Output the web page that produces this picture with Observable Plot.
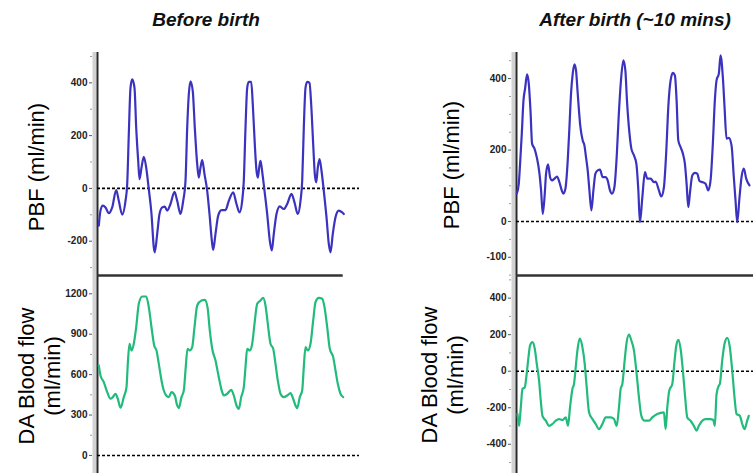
<!DOCTYPE html>
<html><head><meta charset="utf-8">
<script src="https://cdn.jsdelivr.net/npm/d3@7"></script>
<script src="https://cdn.jsdelivr.net/npm/@observablehq/plot@0.6"></script>
<style>
body{margin:0;background:#fff;}
#wrap{position:relative;width:753px;height:473px;overflow:hidden;font-family:"Liberation Sans",Arial,sans-serif;background:#fff;}
.panel{position:absolute;}
.panel svg{background:transparent !important;overflow:visible;}
.title{position:absolute;top:9px;line-height:22px;font-weight:bold;font-style:italic;font-size:19px;transform:translateX(-50%);white-space:nowrap;color:#111;}
.ylab{position:absolute;font-size:22px;line-height:26px;text-align:center;white-space:nowrap;transform:translate(-50%,-50%) rotate(-90deg);color:#000;}
</style></head>
<body><div id="wrap"></div>
<script>
// ---- Data (time in arbitrary units, flow in ml/min) ----
const titles = ["Before birth", "After birth (~10 mins)"];
const pbfLabel = "PBF (ml/min)";
const daLabel = ["DA Blood flow", "(ml/min)"];

// Before birth: pulmonary blood flow
const beforePBFTime = [1.3,3,5.3,8,11.3,14.7,18.7,21.3,24.7,28,29.7,31.3,33,34.7,37,38.7,40.7,42,44,46.3,48.7,51.3,54,56.3,57.3,59.7,62,64.7,67.3,69.7,73,77,79.7,83,85.7,88,89.7,91.3,93,95.3,97.3,99.7,101.3,103,104.7,107,109.7,112,114.7,115.7,118,120.7,124,128,131.3,135.7,139,142,144.7,146.3,148,149.7,151.3,153.7,155.3,157.3,159,160.3,161.7,163,165,167,169.7,172.3,174.3,176.3,179,182.3,186.3,189.7,194,197,200.3,203,204.7,206.3,208,209.7,212,213.7,215.7,217.3,218.7,220.3,222,224,226.3,229,231.3,233,235.3,238,241.3,244.7,246.3];
const beforePBF = [-141,-84,-65,-72,-94,-72,-6,-47,-99,-47,16,205,381,413,381,230,104,35,79,120,79,-3,-97,-223,-242,-172,-97,-72,-69,-84,-59,-13,-47,-97,-47,29,230,356,406,368,230,92,41,79,107,54,-9,-97,-210,-233,-172,-103,-82,-82,-47,-15,-59,-91,-47,29,230,381,404,404,318,167,67,41,79,104,54,-9,-97,-198,-235,-172,-97,-68,-78,-59,-21,-53,-97,-47,29,230,381,404,400,318,167,54,23,79,111,67,-9,-109,-210,-242,-172,-109,-84,-91,-97];

// Before birth: ductus arteriosus flow
const beforeDATime = [1.3,3,6.3,9.7,13,15.3,18,20.3,23,26.3,29,30.3,32,34,36.3,38.7,41.3,44.7,48.7,51.3,54,56.7,59,61.3,64,66.3,68.7,71.3,74,77.3,79.7,81.3,84,86.3,88,90,92.3,94.7,97,99.7,104,107.3,110,112.3,114.7,118,121.3,124.7,126.3,129.7,133.7,136.3,139,141.3,143.7,146.3,148,149.7,152.3,154.7,157,159.7,163,165.7,168,170.3,173,175.7,178,180.3,183,186.3,189.7,193,195.7,198,199.7,202.3,204.7,206.3,208,210.3,213,215.7,218,221.3,224.7,227,229.7,232.3,235.7,238,240.3,243,245.7];
const beforeDA = [668,594,544,470,421,433,458,421,354,433,507,680,829,779,829,952,1126,1180,1180,1101,952,816,779,680,557,482,445,433,470,445,371,351,433,482,631,792,779,804,952,1113,1150,1155,1101,928,792,705,581,470,445,458,487,445,371,346,433,507,656,792,779,829,977,1126,1150,1170,1113,977,829,792,680,557,458,433,445,462,421,371,351,433,482,656,804,779,829,1002,1138,1170,1163,1101,952,792,730,631,532,458,433];

// After birth: pulmonary blood flow
const afterPBFTime = [0.3,2.3,3.6,5.3,7,8.6,10.6,12.3,14,15.6,18,20.3,23,24.6,26.3,28.3,29.6,31.6,33.6,35.6,38,40.6,43,45.3,47,49,51.3,53,54.6,56.3,58,59.6,61.3,64,66.3,68,69.6,71.3,73,75,77,79,81.3,83.6,86.3,89,91.3,93.6,95.6,98,100.3,102.3,104.6,107,109,110.6,113,115,117.6,120,122,123.6,126,128.6,131,134.3,137.6,139.3,142.6,145,147.6,150,152,154.3,156.6,158.6,160.3,162,164.3,166.6,168.6,170.3,172,173.6,176,178.6,181,183.3,186.6,189.3,192,194.3,196.6,198.6,200.3,202.6,204.3,206.6,208.3,210.3,212.6,215.3,217.6,219.3,221,223.3,225.3,227.6,230,233.3];
const afterPBF = [78,106,162,246,339,372,412,386,311,218,204,180,134,87,21,78,134,160,124,115,120,126,110,87,78,92,171,264,358,414,440,423,358,264,227,213,180,143,87,31,87,134,143,145,124,124,115,87,78,96,180,293,395,451,423,339,250,204,185,162,87,-2,68,138,120,120,110,112,87,70,96,199,321,395,416,409,339,227,208,190,162,106,40,78,129,136,134,113,110,106,87,115,218,339,395,414,465,404,321,232,234,213,124,59,-2,68,124,148,120,101];

// After birth: ductus arteriosus flow
const afterDATime = [1,2.6,4.3,6,8.3,10,12,13.6,16,18.3,20.3,22.6,24.3,26,29.3,32.6,36,39.3,42.6,46,49.3,51.6,53.6,56,57.6,59.3,61,63.3,66,68.3,70.3,72.6,76,79.3,82.6,86,89.3,94.3,97.6,100.3,102.6,104.3,106,108.3,110.3,112.6,115,117.6,120.3,122.6,125,128.3,132.6,136,141,147.6,149.3,151,153,156,158.3,160,162,164.3,166.6,168.6,171,174.3,177.6,180.3,182.6,186,189.3,194.3,197,198.6,200.3,202.6,203.6,206,208.3,211,213.6,216,218.3,220.3,223.6,226,228.3,231,232.6];
const afterDA = [-234,-299,-198,-97,-88,-24,77,141,159,123,40,-51,-161,-244,-271,-299,-289,-271,-262,-267,-253,-299,-198,-97,-70,22,114,178,132,40,-88,-225,-262,-289,-317,-289,-253,-253,-262,-299,-198,-97,-70,59,159,201,168,114,-15,-143,-244,-271,-271,-253,-234,-225,-317,-198,-106,-70,59,141,172,123,4,-125,-253,-271,-299,-326,-299,-271,-262,-262,-267,-299,-125,-79,-70,59,150,183,132,4,-143,-234,-244,-289,-317,-271,-244];

// Axis tick values
const tlMajor = [-200,0,200,400], tlMinor = [-300,-100,100,300,500];
const blMajor = [0,300,600,900,1200], blMinor = [150,450,750,1050];
const trMajor = [-100,0,200,400], trMinor = [-150,-50,50,100,150,250,300,350,450];
const brMajor = [-400,-200,0,200,400], brMinor = [-500,-300,-100,100,300,500];

const blue = "#3b33bf", green = "#22bb7c";

function panel(o) {
  const data = o.time.map((t, i) => ({t, v: o.values[i]}));
  const marks = [
    Plot.ruleX([0], {dx: -3, stroke: "#d2d2d2", strokeWidth: 4}),
    Plot.ruleX([0], {stroke: "#2a2a2a", strokeWidth: 2}),
    Plot.axisY({ticks: o.minor, tickSize: 2, dx: -5, text: null, stroke: "#9a9a9a", label: null}),
    Plot.axisY({ticks: o.major, tickSize: 3, dx: -5, tickPadding: 2, tickFormat: d => String(d),
                fontSize: 10, fontWeight: "bold", fill: "#222", stroke: "#555", label: null}),
    Plot.ruleY([0], {stroke: "#000", strokeWidth: 1.6, strokeDasharray: "3,2"}),
    Plot.line(data, {x: "t", y: "v", stroke: o.color, strokeWidth: 2.2, curve: "monotone-x"})
  ];
  if (o.topLine) {
    marks.push(Plot.ruleY([o.yDomain[1]], {x1: 0, x2: o.topLineEnd, stroke: "#333", strokeWidth: 2.5}));
  }
  const chart = Plot.plot({
    width: o.width, height: o.height,
    marginLeft: o.marginLeft, marginRight: o.marginRight,
    marginTop: o.marginTop, marginBottom: 0,
    style: {background: "transparent", overflow: "visible", fontFamily: "Liberation Sans, Arial, sans-serif"},
    x: {domain: [0, o.xMax], axis: null},
    y: {domain: o.yDomain},
    marks
  });
  const div = document.createElement("div");
  div.className = "panel";
  div.style.left = o.left + "px";
  div.style.top = o.top + "px";
  div.appendChild(chart);
  return div;
}

const wrap = document.getElementById("wrap");

wrap.appendChild(panel({time: beforePBFTime, values: beforePBF, color: blue, xMax: 262,
  yDomain: [-330, 515], major: tlMajor, minor: tlMinor,
  left: 0, top: 0, width: 375, height: 275, marginLeft: 97, marginRight: 16, marginTop: 52}));
wrap.appendChild(panel({time: beforeDATime, values: beforeDA, color: green, xMax: 262,
  yDomain: [-134, 1336], major: blMajor, minor: blMinor, topLine: true, topLineEnd: d3.max(beforeDATime),
  left: 0, top: 270, width: 375, height: 203, marginLeft: 97, marginRight: 16, marginTop: 5}));
wrap.appendChild(panel({time: afterPBFTime, values: afterPBF, color: blue, xMax: 237.3,
  yDomain: [-151, 473], major: trMajor, minor: trMinor,
  left: 380, top: 0, width: 373, height: 275, marginLeft: 136, marginRight: 0, marginTop: 52}));
wrap.appendChild(panel({time: afterDATime, values: afterDA, color: green, xMax: 237.3,
  yDomain: [-560, 524], major: brMajor, minor: brMinor, topLine: true, topLineEnd: 237.3,
  left: 380, top: 270, width: 373, height: 203, marginLeft: 136, marginRight: 0, marginTop: 5}));

function addDiv(cls, html, x, y) {
  const d = document.createElement("div");
  d.className = cls;
  d.innerHTML = html;
  d.style.left = x + "px";
  d.style.top = y + "px";
  wrap.appendChild(d);
  return d;
}
addDiv("title", titles[0], 206, 9);
addDiv("title", titles[1], 635, 9);
addDiv("ylab", pbfLabel, 37, 167);
addDiv("ylab", daLabel.join("<br>"), 40, 376);
addDiv("ylab", pbfLabel, 452, 165);
addDiv("ylab", daLabel.join("<br>"), 443, 375);
</script></body></html>
